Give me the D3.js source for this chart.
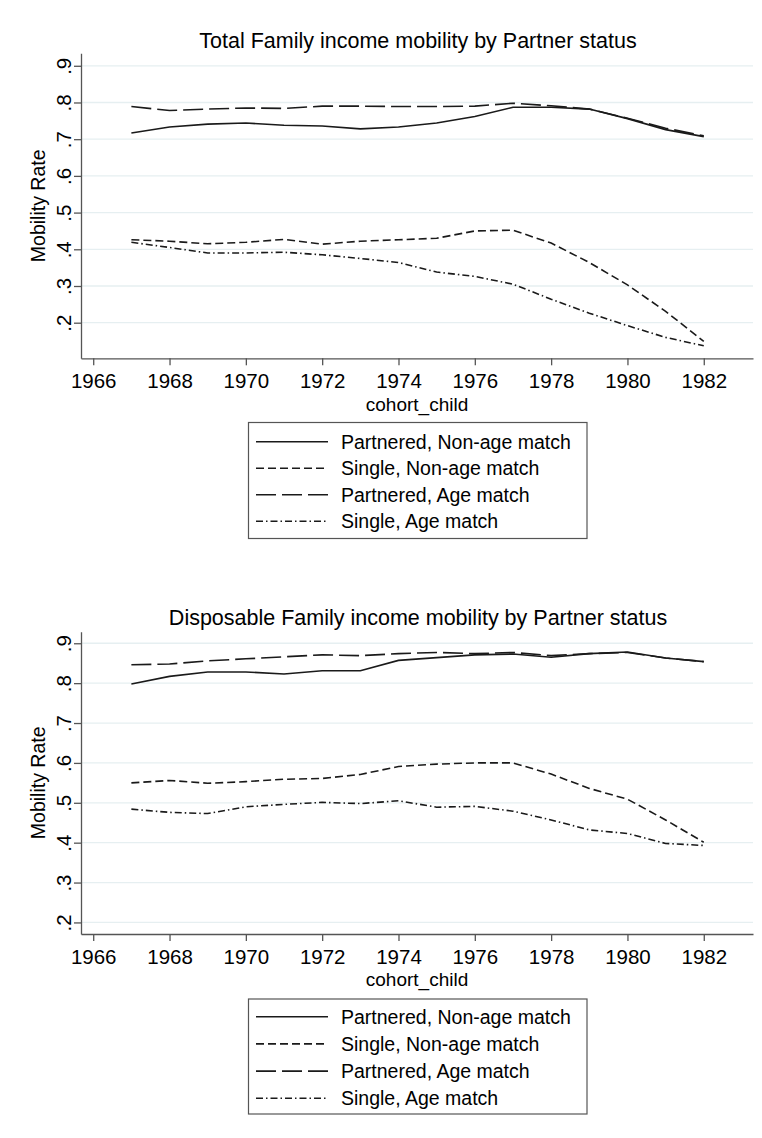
<!DOCTYPE html>
<html>
<head>
<meta charset="utf-8">
<script src="https://cdn.jsdelivr.net/npm/d3@7/dist/d3.min.js"></script>
<style>
  body { margin: 0; background: #fff; }
  svg text { font-family: "Liberation Sans", Arial, sans-serif; fill: #000; }
</style>
</head>
<body>
<script>
// cohort years
var years = [1967, 1968, 1969, 1970, 1971, 1972, 1973, 1974, 1975, 1976, 1977, 1978, 1979, 1980, 1981, 1982];

// Total family income
var totPartNonAge = [0.717, 0.733, 0.741, 0.744, 0.738, 0.736, 0.728, 0.733, 0.744, 0.762, 0.787, 0.787, 0.782, 0.756, 0.726, 0.707];
var totSingNonAge = [0.426, 0.422, 0.415, 0.419, 0.427, 0.414, 0.422, 0.426, 0.430, 0.450, 0.452, 0.417, 0.364, 0.303, 0.231, 0.149];
var totPartAge    = [0.789, 0.778, 0.782, 0.785, 0.784, 0.790, 0.790, 0.789, 0.789, 0.790, 0.798, 0.791, 0.782, 0.757, 0.730, 0.709];
var totSingAge    = [0.419, 0.405, 0.390, 0.390, 0.392, 0.385, 0.375, 0.364, 0.338, 0.326, 0.305, 0.264, 0.226, 0.192, 0.160, 0.137];

// Disposable family income
var dispPartNonAge = [0.798, 0.817, 0.828, 0.828, 0.823, 0.831, 0.831, 0.857, 0.864, 0.871, 0.873, 0.865, 0.874, 0.878, 0.863, 0.854];
var dispSingNonAge = [0.550, 0.556, 0.549, 0.553, 0.559, 0.561, 0.571, 0.591, 0.597, 0.600, 0.600, 0.572, 0.536, 0.509, 0.457, 0.401];
var dispPartAge    = [0.846, 0.848, 0.856, 0.861, 0.866, 0.871, 0.869, 0.874, 0.877, 0.874, 0.877, 0.869, 0.874, 0.877, 0.863, 0.854];
var dispSingAge    = [0.484, 0.476, 0.473, 0.490, 0.496, 0.501, 0.498, 0.505, 0.489, 0.491, 0.479, 0.457, 0.432, 0.423, 0.398, 0.393];

var seriesNames = ['Partnered, Non-age match', 'Single, Non-age match', 'Partnered, Age match', 'Single, Age match'];
var xTicks = [1966, 1968, 1970, 1972, 1974, 1976, 1978, 1980, 1982];
var yTicks = [0.2, 0.3, 0.4, 0.5, 0.6, 0.7, 0.8, 0.9];

// line styles per series
var dashes = [null, '8,4', '20,6', '7,3,1.5,3'];

var W = 762, H = 1138;
var svg = d3.select('body').append('svg')
    .attr('width', W)
    .attr('height', H);

function drawPanel(cfg) {
    var g = svg.append('g');
    var x = d3.scaleLinear().domain([1965.68, 1983.29]).range([81, 753]);
    var y = d3.scaleLinear().domain(cfg.ydom).range([cfg.bottom, cfg.top]);

    // gridlines
    g.selectAll('.grid').data(yTicks).enter().append('line')
        .attr('x1', 81).attr('x2', 753)
        .attr('y1', d => y(d)).attr('y2', d => y(d))
        .attr('stroke', '#e6eff1').attr('stroke-width', 1.3);

    // axes
    var xAxis = d3.axisBottom(x).tickValues(xTicks).tickFormat(d3.format('d')).tickSize(7).tickSizeOuter(0);
    var gx = g.append('g').attr('transform', 'translate(0,' + cfg.bottom + ')').call(xAxis);
    gx.select('.domain').attr('stroke', '#555').attr('stroke-width', 1.3);
    gx.selectAll('.tick line').attr('stroke', '#555').attr('stroke-width', 1.3);
    gx.selectAll('.tick text').attr('font-size', 20.5).attr('dy', 0).attr('y', 30)
        .style('font-family', '"Liberation Sans", Arial, sans-serif').attr('fill', '#000');

    var yAxis = d3.axisLeft(y).tickValues(yTicks).tickFormat(d => d3.format('.1f')(d).replace('0.', '.')).tickSize(7).tickSizeOuter(0);
    var gy = g.append('g').attr('transform', 'translate(81,0)').call(yAxis);
    gy.select('.domain').attr('stroke', '#555').attr('stroke-width', 1.3);
    gy.selectAll('.tick line').attr('stroke', '#555').attr('stroke-width', 1.3);
    gy.selectAll('.tick text')
        .attr('font-size', 20.5).attr('x', 0).attr('dy', 0)
        .attr('text-anchor', 'middle')
        .attr('transform', 'translate(-10,0) rotate(-90)')
        .style('font-family', '"Liberation Sans", Arial, sans-serif').attr('fill', '#000');

    // titles
    g.append('text').attr('x', 418).attr('y', cfg.titleY).attr('text-anchor', 'middle')
        .attr('font-size', 21.5).text(cfg.title);
    g.append('text').attr('x', 417).attr('y', cfg.xlabY).attr('text-anchor', 'middle')
        .attr('font-size', 19).text('cohort_child');
    g.append('text').attr('transform', 'translate(45,' + ((cfg.top + cfg.bottom) / 2) + ') rotate(-90)')
        .attr('text-anchor', 'middle').attr('font-size', 19.5).text('Mobility Rate');

    // lines
    var line = d3.line().x((d, i) => x(years[i])).y(d => y(d));
    g.selectAll('.series').data(cfg.series).enter().append('path')
        .attr('d', d => line(d))
        .attr('fill', 'none')
        .attr('stroke', '#1a1a1a')
        .attr('stroke-width', 1.6)
        .attr('stroke-dasharray', (d, i) => dashes[i]);

    // legend
    var lg = g.append('g');
    lg.append('rect').attr('x', 248.5).attr('y', cfg.legTop)
        .attr('width', 338.5).attr('height', cfg.legH)
        .attr('fill', '#fff').attr('stroke', '#555').attr('stroke-width', 1.2);
    var rows = lg.selectAll('.row').data(seriesNames).enter().append('g')
        .attr('transform', (d, i) => 'translate(0,' + (cfg.legRow0 + i * cfg.legStep) + ')');
    rows.append('line').attr('x1', 256).attr('x2', 328).attr('y1', 0).attr('y2', 0)
        .attr('stroke', '#1a1a1a').attr('stroke-width', 1.6)
        .attr('stroke-dasharray', (d, i) => dashes[i]);
    rows.append('text').attr('x', 341).attr('y', 7).attr('font-size', 19.5).text(d => d);
}

drawPanel({
    title: 'Total Family income mobility by Partner status',
    titleY: 48,
    top: 53.3, bottom: 358.3,
    ydom: [0.103, 0.934],
    xlabY: 410.5,
    series: [totPartNonAge, totSingNonAge, totPartAge, totSingAge],
    legTop: 422.5, legH: 116, legRow0: 441.7, legStep: 26.5
});

drawPanel({
    title: 'Disposable Family income mobility by Partner status',
    titleY: 625,
    top: 631.7, bottom: 934,
    ydom: [0.171, 0.929],
    xlabY: 985.5,
    series: [dispPartNonAge, dispSingNonAge, dispPartAge, dispSingAge],
    legTop: 999, legH: 115, legRow0: 1016.7, legStep: 27.2
});
</script>
</body>
</html>
